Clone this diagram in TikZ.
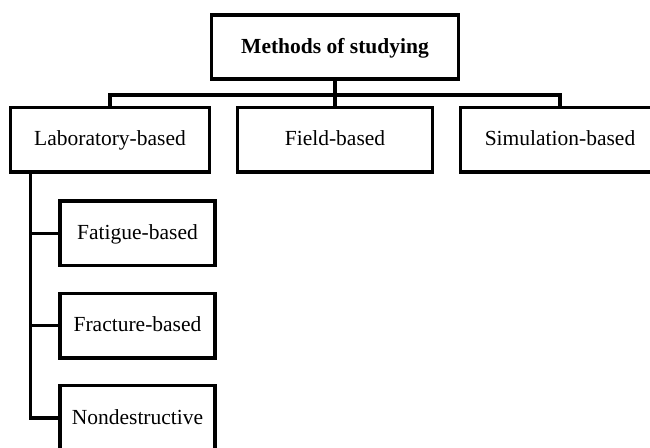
\documentclass[tikz,border=0pt]{standalone}
\usepackage{fontspec}
\setmainfont{Liberation Serif}
\begin{document}
\begin{tikzpicture}[x=1pt,y=-1pt,
  box/.style={draw=black, line width=3.2pt, fill=white, inner sep=0pt,
    font=\fontsize{21.5}{24}\selectfont, text height=15pt, text depth=3pt, align=center},
  conn/.style={draw=black, line width=3.2pt, line join=miter}]
\fill[white] (0,0) rectangle (650,447);
\useasboundingbox (0,0) rectangle (650,447);
\clip (0,0) rectangle (650,447);
% top
\node[box, minimum width=247.7pt, minimum height=64pt] (top) at (335,47) {\textbf{Methods of studying}};
% second row
\node[box, minimum width=198.3pt, minimum height=64.3pt] (lab) at (110,139.9) {Laboratory-based};
\node[box, minimum width=195.3pt, minimum height=64.3pt] (field) at (335,139.9) {Field-based};
\node[box, minimum width=199.4pt, minimum height=64.3pt] (sim) at (560,139.9) {Simulation-based};
% sub row
\node[box, minimum width=155pt, minimum height=64.3pt] (fat) at (137.5,233.1) {Fatigue-based};
\node[box, minimum width=155pt, minimum height=64.3pt] (fr) at (137.5,325.8) {Fracture-based};
\node[box, minimum width=155pt, minimum height=64.3pt] (nd) at (137.5,418) {Nondestructive};
% connectors
\coordinate (bus) at (335,95);
\coordinate (trunk) at (30.3,172);
\draw[conn] (top.south) -- (field.north);
\draw[conn] (lab.north) -- (lab.north |- bus) -| (sim.north);
\draw[conn] (trunk) |- (nd.west);
\draw[conn] (trunk |- fat.west) -- (fat.west);
\draw[conn] (trunk |- fr.west) -- (fr.west);
\end{tikzpicture}
\end{document}
